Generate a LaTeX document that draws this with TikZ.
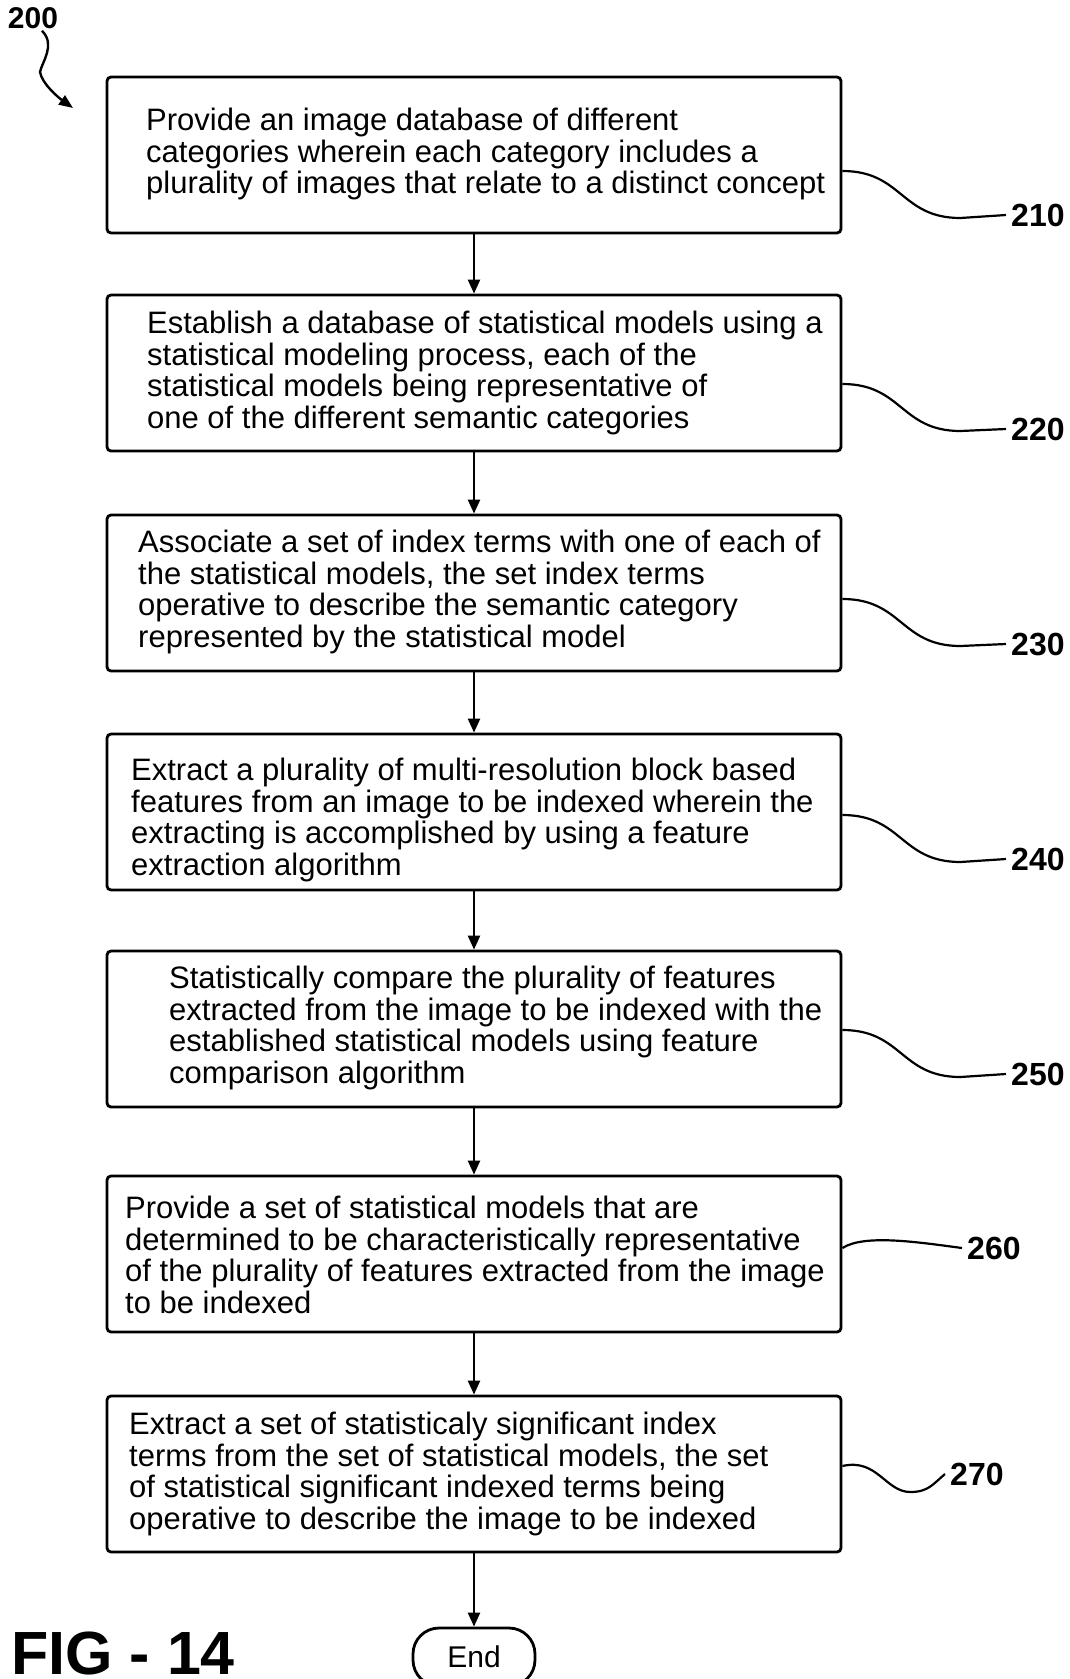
\documentclass[tikz,border=0pt]{standalone}
\usepackage{fontspec}
\setmainfont{Liberation Sans}
\usetikzlibrary{arrows.meta}

\begin{document}
\begin{tikzpicture}
  [x=1pt,y=-1pt,
   stepbox/.style={draw,line width=2.8pt,rounded corners=4pt,minimum width=734pt,minimum height=156pt,inner sep=0pt},
   steptext/.style={anchor=west,align=left,inner sep=0pt,font=\fontsize{31}{31.6}\selectfont},
   reflabel/.style={anchor=west,inner sep=5pt,font=\fontsize{32}{32}\selectfont\bfseries},
   flow/.style={line width=2.4pt,-{Triangle[length=14pt,width=12pt]}},
   leader/.style={line width=2.2pt}]
  \useasboundingbox (0,0) rectangle (1070,1679);

  % boxes
  \node[stepbox] (b210) at (474,155) {};
  \node[stepbox] (b220) at (474,373) {};
  \node[stepbox] (b230) at (474,593) {};
  \node[stepbox] (b240) at (474,812) {};
  \node[stepbox] (b250) at (474,1029) {};
  \node[stepbox] (b260) at (474,1254) {};
  \node[stepbox] (b270) at (474,1474) {};
  \node[draw,line width=2.8pt,rounded corners=26pt,minimum width=122pt,minimum height=58pt,
        font=\fontsize{30}{30}\selectfont] (stop) at (474,1657) {End};

  % texts
  \node[steptext] (t210) at (146,154) {Provide an image database of different\\categories wherein each category includes a\\plurality of images that relate to a distinct concept};
  \node[steptext] (t220) at (147,373) {Establish a database of statistical models using a\\statistical modeling process, each of the\\statistical models being representative of\\one of the different semantic categories};
  \node[steptext] (t230) at (138,592) {Associate a set of index terms with one of each of\\the statistical models, the set index terms\\operative to describe the semantic category\\represented by the statistical model};
  \node[steptext] (t240) at (131,820) {Extract a plurality of multi-resolution block based\\features from an image to be indexed wherein the\\extracting is accomplished by using a feature\\extraction algorithm};
  \node[steptext] (t250) at (169,1028) {Statistically compare the plurality of features\\extracted from the image to be indexed with the\\established statistical models using feature\\comparison algorithm};
  \node[steptext] (t260) at (125,1255) {Provide a set of statistical models that are\\determined to be characteristically representative\\of the plurality of features extracted from the image\\to be indexed};
  \node[steptext] (t270) at (129,1474) {Extract a set of statisticaly significant index\\terms from the set of statistical models, the set\\of statistical significant indexed terms being\\operative to describe the image to be indexed};

  \foreach \from/\to in {b210/b220,b220/b230,b230/b240,b240/b250,b250/b260,b260/b270,b270/stop}
    \draw[flow] (\from) -- (\to);

  % reference numerals
  \node[reflabel] (l210) at (1006,215) {210};
  \node[reflabel] (l220) at (1006,429) {220};
  \node[reflabel] (l230) at (1006,644) {230};
  \node[reflabel] (l240) at (1006,859) {240};
  \node[reflabel] (l250) at (1006,1074) {250};
  \node[reflabel] (l260) at (962,1248) {260};
  \node[reflabel] (l270) at (945,1474) {270};

  \foreach \n/\dy in {210/16,220/11,230/6,240/3,250/1}
    \draw[leader] ([yshift=-\dy pt]b\n.east) .. controls +(60,0) and +(-60,0) .. +(118,47) -- (l\n.west);
  \draw[leader] ([yshift=6pt]b260.east) .. controls +(22,-14) and +(-45,-6) .. (l260.west);
  \draw[leader] ([yshift=8pt]b270.east) .. controls +(35,-8) and +(-25,0) .. +(68,26)
    .. controls +(18,0) and +(-12,10) .. (l270.west);

  \node[font=\fontsize{30}{30}\selectfont\bfseries,inner sep=2pt] (l200) at (33,18) {200};
  \coordinate (c200) at (73,108);
  \draw[line width=2.4pt,-{Triangle[length=14pt,width=11pt]}] ([xshift=9pt]l200.south)
    .. controls +(14,14) and +(2,-10) .. (40,72) .. controls +(2,12) and +(-14,-10) .. (c200);

  \node[anchor=base west,inner sep=0pt,font=\fontsize{61}{61}\selectfont\bfseries] (fig) at (11,1674) {FIG - 14};
\end{tikzpicture}
\end{document}
